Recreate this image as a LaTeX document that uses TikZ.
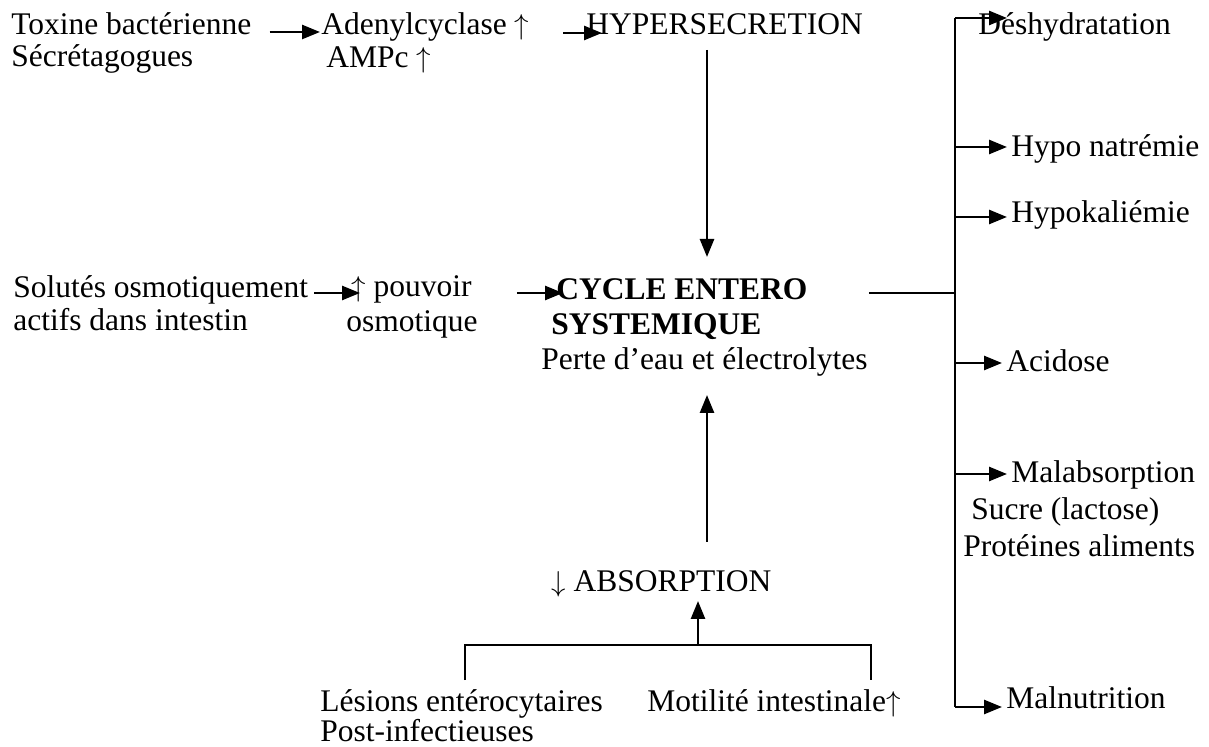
\documentclass[tikz,border=0pt]{standalone}
\usepackage{fontspec}
\setmainfont{Liberation Serif}
\usetikzlibrary{arrows.meta,calc}

\tikzset{
  lbl/.style={anchor=base west, inner sep=0pt, font=\fontsize{15.75}{18}\selectfont},
  arr/.style={-{Triangle[length=9pt,width=7pt]}, line width=1.3pt},
}
\newcommand{\hausse}{\ensuremath{\uparrow}}
\newcommand{\baisse}{\ensuremath{\downarrow}}

\begin{document}
\begin{tikzpicture}[x=0.5pt, y=0.5pt, line width=1.3pt]
  \useasboundingbox (0,0) rectangle (1209,-747);
  % left column
  \node[lbl] (tox1) at (10,-35) {Toxine bactérienne};
  \node[lbl] (tox2) at (10,-67) {Sécrétagogues};
  \node[lbl] (sol1) at (12,-298) {Solutés osmotiquement};
  \node[lbl] (sol2) at (12,-331) {actifs dans intestin};
  % middle
  \node[lbl] (ade1) at (320,-35) {Adenylcyclase \hausse};
  \node[lbl] (ade2) at (325,-68) {AMPc \hausse};
  \node[lbl] (hyp) at (585,-35) {HYPERSECRETION};
  \node[lbl] (pou1) at (350,-297) {\hausse\ pouvoir};
  \node[lbl] (pou2) at (345,-332) {osmotique};
  \node[lbl, font=\fontsize{15.75}{18}\selectfont\bfseries] (cyc1) at (555,-300) {CYCLE ENTERO};
  \node[lbl, font=\fontsize{15.75}{18}\selectfont\bfseries] (cyc2) at (550,-335) {SYSTEMIQUE};
  \node[lbl] (cyc3) at (540,-370) {Perte d’eau et électrolytes};
  \node[lbl] (abs) at (550,-592) {\baisse\ ABSORPTION};
  \node[lbl] (les1) at (319,-711) {Lésions entérocytaires};
  \node[lbl] (les2) at (319,-741) {Post-infectieuses};
  \node[lbl] (mot) at (646,-711) {Motilité intestinale\hausse};
  % right column
  \node[lbl] (deh) at (977,-35) {Déshydratation};
  \node[lbl] (nat) at (1010,-157) {Hypo natrémie};
  \node[lbl] (kal) at (1010,-223) {Hypokaliémie};
  \node[lbl] (aci) at (1005,-372) {Acidose};
  \node[lbl] (mal1) at (1010,-483) {Malabsorption};
  \node[lbl] (mal2) at (970,-520) {Sucre (lactose)};
  \node[lbl] (mal3) at (962,-557) {Protéines aliments};
  \node[lbl] (mln) at (1005,-708) {Malnutrition};
  % free ends
  \coordinate (top) at (707,-257);
  \coordinate (bot) at (707,-542);
  \coordinate (bt) at (955,-18);
  \coordinate (bb) at (955,-707);
  \coordinate (bl) at (465,-680);
  \coordinate (br) at (871,-680);
  \coordinate (jn) at (698,-645);
  % arrows along the rows
  \draw[arr] ($(tox1.base east)+(17,3)$) -- ($(ade1.base west)+(0,3)$);
  \draw[arr] ($(ade1.base east)+(33,2)$) -- ($(hyp.base west)+(17,2)$);
  \draw[arr] ($(sol1.base east)+(5,5)$) -- ($(pou1.base west)+(10,4)$);
  \draw[arr] ($(pou1.base east)+(44,4)$) -- ($(cyc1.base west)+(8,7)$);
  \draw[arr] ($(top |- hyp.base)+(0,-15)$) -- (top);
  \draw[arr] (bot) -- ($(bot |- cyc3.base)+(0,-25)$);
  % to the right bracket
  \draw ($(cyc3.east |- cyc1.base)+(0,7)$) -- ($(bt |- cyc1.base)+(0,7)$);
  \draw (bt) -- (bb);
  \draw[arr] (bt) -- ($(deh.base west)+(30,17)$);
  \foreach \n/\dy in {nat/10, kal/6, aci/9, mal1/9, mln/1}
    \draw[arr] ($(bt |- \n.base)+(0,\dy)$) -- ($(\n.base west)+(-3,\dy)$);
  % bottom bracket
  \draw (bl) |- (jn) -| (br);
  \draw[arr] (jn) -- ($(jn |- abs.base)+(0,-9)$);
\end{tikzpicture}
\end{document}
